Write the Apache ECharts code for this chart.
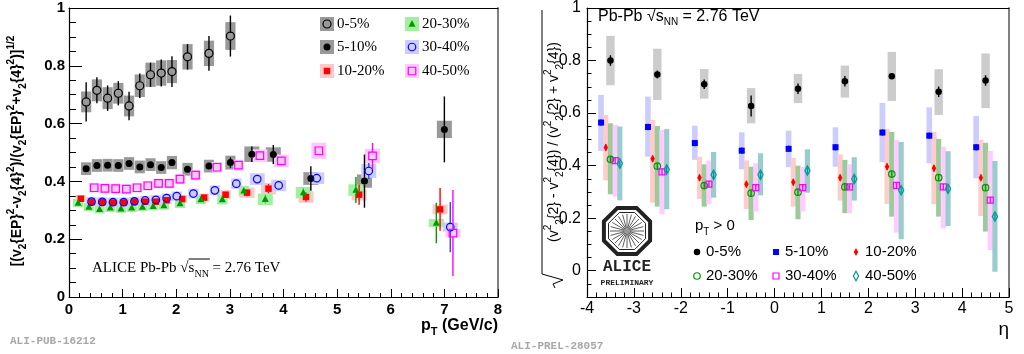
<!DOCTYPE html>
<html>
<head>
<meta charset="utf-8">
<script src="https://cdn.jsdelivr.net/npm/echarts@6/dist/echarts.min.js"></script>
<style>
html, body { margin: 0; padding: 0; background: #fff; }
#chart { width: 1024px; height: 354px; }
</style>
</head>
<body>
<div id="chart"></div>
<script>
// ---- left panel: ratio vs pT ----
const pt_0_5 = [0.32, 0.52, 0.72, 0.92, 1.12, 1.32, 1.52, 1.72, 1.92, 2.21, 2.61, 3.01]
const v_0_5 = [0.675, 0.715, 0.688, 0.705, 0.661, 0.731, 0.769, 0.775, 0.780, 0.831, 0.843, 0.903]
const stat_0_5 = [0.068, 0.045, 0.044, 0.042, 0.049, 0.042, 0.042, 0.047, 0.053, 0.044, 0.060, 0.071]
const sys_0_5 = [0.036, 0.038, 0.038, 0.036, 0.036, 0.039, 0.042, 0.044, 0.040, 0.044, 0.044, 0.048]

const pt_5_10 = [0.32, 0.52, 0.72, 0.92, 1.12, 1.32, 1.52, 1.72, 1.92, 2.21, 2.61, 3.01, 3.41, 3.81, 4.51, 5.51, 7.0]
const v_5_10 = [0.444, 0.455, 0.456, 0.455, 0.462, 0.450, 0.458, 0.448, 0.465, 0.442, 0.453, 0.465, 0.494, 0.493, 0.410, 0.401, 0.580]
const stat_5_10 = [0.008, 0.008, 0.008, 0.008, 0.008, 0.008, 0.008, 0.009, 0.010, 0.010, 0.012, 0.018, 0.027, 0.033, 0.042, 0.092, 0.114]
const sys_5_10 = [0.022, 0.022, 0.022, 0.022, 0.022, 0.022, 0.022, 0.022, 0.023, 0.022, 0.022, 0.024, 0.027, 0.025, 0.022, 0.023, 0.030]

const pt_10_20 = [0.22, 0.42, 0.62, 0.82, 1.02, 1.22, 1.42, 1.62, 1.82, 2.11, 2.52, 2.92, 3.32, 3.72, 4.42, 5.41, 6.92]
const v_10_20 = [0.340, 0.329, 0.328, 0.327, 0.327, 0.330, 0.330, 0.330, 0.335, 0.339, 0.344, 0.354, 0.361, 0.375, 0.346, 0.354, 0.303]
const stat_10_20 = [0.005, 0.004, 0.004, 0.004, 0.004, 0.004, 0.005, 0.005, 0.006, 0.006, 0.008, 0.010, 0.012, 0.016, 0.016, 0.035, 0.074]
const sys_10_20 = [0.013, 0.013, 0.013, 0.013, 0.013, 0.013, 0.013, 0.013, 0.013, 0.014, 0.014, 0.016, 0.018, 0.020, 0.020, 0.020, 0.017]

const pt_20_30 = [0.17, 0.37, 0.57, 0.77, 0.97, 1.17, 1.37, 1.57, 1.77, 2.07, 2.46, 2.86, 3.26, 3.66, 4.37, 5.35, 6.85]
const v_20_30 = [0.325, 0.311, 0.303, 0.308, 0.305, 0.308, 0.311, 0.314, 0.316, 0.323, 0.337, 0.337, 0.367, 0.338, 0.361, 0.370, 0.256]
const stat_20_30 = [0.005, 0.004, 0.004, 0.004, 0.004, 0.004, 0.005, 0.005, 0.006, 0.006, 0.008, 0.010, 0.012, 0.014, 0.014, 0.045, 0.070]
const sys_20_30 = [0.014, 0.014, 0.014, 0.014, 0.014, 0.014, 0.014, 0.014, 0.014, 0.015, 0.016, 0.017, 0.018, 0.020, 0.020, 0.020, 0.014]

const pt_30_40 = [0.42, 0.62, 0.82, 1.02, 1.22, 1.42, 1.62, 1.82, 2.01, 2.32, 2.72, 3.12, 3.51, 3.91, 4.62, 5.59, 7.11]
const v_30_40 = [0.330, 0.329, 0.328, 0.328, 0.331, 0.334, 0.336, 0.342, 0.349, 0.358, 0.369, 0.392, 0.408, 0.386, 0.411, 0.436, 0.242]
const stat_30_40 = [0.004, 0.004, 0.004, 0.004, 0.004, 0.005, 0.005, 0.005, 0.006, 0.007, 0.008, 0.009, 0.010, 0.010, 0.012, 0.028, 0.087]
const sys_30_40 = [0.016, 0.016, 0.016, 0.016, 0.016, 0.016, 0.016, 0.016, 0.016, 0.017, 0.017, 0.018, 0.020, 0.020, 0.020, 0.024, 0.016]

const pt_40_50 = [0.47, 0.67, 0.87, 1.07, 1.27, 1.47, 1.67, 1.87, 2.07, 2.36, 2.76, 3.16, 3.56, 3.96, 4.66, 5.66, 7.16]
const v_40_50 = [0.378, 0.376, 0.375, 0.373, 0.378, 0.385, 0.393, 0.393, 0.408, 0.422, 0.449, 0.456, 0.489, 0.471, 0.506, 0.488, 0.221]
const stat_40_50 = [0.004, 0.004, 0.004, 0.004, 0.005, 0.005, 0.005, 0.006, 0.006, 0.007, 0.008, 0.009, 0.010, 0.011, 0.012, 0.045, 0.149]
const sys_40_50 = [0.017, 0.017, 0.017, 0.017, 0.017, 0.017, 0.017, 0.017, 0.017, 0.018, 0.018, 0.019, 0.022, 0.022, 0.028, 0.025, 0.014]

const ptTicks = [0, 1, 2, 3, 4, 5, 6, 7, 8]

// ---- right panel: ratio vs eta ----
const etaBins = [-3.5, -2.5, -1.5, -0.5, 0.5, 1.5, 2.5, 3.5, 4.5]

const eta_v_0_5 = [0.800, 0.747, 0.710, 0.627, 0.693, 0.721, 0.740, 0.681, 0.724]
const eta_hi_0_5 = [0.894, 0.845, 0.768, 0.695, 0.749, 0.781, 0.833, 0.767, 0.827]
const eta_lo_0_5 = [0.706, 0.650, 0.655, 0.561, 0.638, 0.659, 0.646, 0.593, 0.619]
const eta_stat_0_5 = [0.020, 0.015, 0.018, 0.040, 0.020, 0.020, 0.010, 0.020, 0.020]

const eta_v_5_10 = [0.564, 0.547, 0.486, 0.457, 0.464, 0.470, 0.526, 0.514, 0.470]
const eta_hi_5_10 = [0.669, 0.663, 0.552, 0.527, 0.533, 0.546, 0.639, 0.622, 0.589]
const eta_lo_5_10 = [0.456, 0.434, 0.422, 0.386, 0.394, 0.396, 0.413, 0.409, 0.352]

const eta_v_10_20 = [0.469, 0.426, 0.354, 0.329, 0.337, 0.354, 0.396, 0.390, 0.354]
const eta_hi_10_20 = [0.593, 0.574, 0.434, 0.420, 0.429, 0.443, 0.540, 0.528, 0.498]
const eta_lo_10_20 = [0.344, 0.259, 0.273, 0.235, 0.244, 0.267, 0.254, 0.253, 0.208]

const eta_v_20_30 = [0.424, 0.398, 0.324, 0.295, 0.299, 0.319, 0.368, 0.354, 0.316]
const eta_hi_20_30 = [0.561, 0.551, 0.405, 0.396, 0.400, 0.422, 0.528, 0.502, 0.487]
const eta_lo_20_30 = [0.291, 0.244, 0.244, 0.193, 0.196, 0.219, 0.206, 0.206, 0.149]

const eta_v_30_40 = [0.419, 0.376, 0.330, 0.316, 0.316, 0.319, 0.325, 0.319, 0.269]
const eta_hi_30_40 = [0.555, 0.536, 0.419, 0.409, 0.395, 0.405, 0.497, 0.472, 0.456]
const eta_lo_30_40 = [0.282, 0.215, 0.253, 0.225, 0.225, 0.219, 0.145, 0.161, 0.079]

const eta_v_40_50 = [0.408, 0.385, 0.365, 0.365, 0.381, 0.349, 0.306, 0.312, 0.206]
const eta_hi_40_50 = [0.549, 0.539, 0.452, 0.447, 0.462, 0.432, 0.490, 0.455, 0.418]
const eta_lo_40_50 = [0.268, 0.234, 0.278, 0.287, 0.297, 0.267, 0.120, 0.170, -0.004]

const etaTicks = [-4, -3, -2, -1, 0, 1, 2, 3, 4, 5]
const ratioTicks = [0, 0.2, 0.4, 0.6, 0.8, 1]

const F = 'Liberation Sans, Arial, Helvetica, sans-serif'
const FS = 'Liberation Serif, Times New Roman, serif'
const FM = 'Liberation Mono, DejaVu Sans Mono, monospace'

function zip(...cols) {
  return cols[0].map((_, i) => cols.map(c => c[i]))
}

const measureCtx = document.createElement('canvas').getContext('2d')
function textWidth(font, text) {
  measureCtx.font = font
  return measureCtx.measureText(text).width
}

// marker drawing shared by series and legends
function marker(mk, x, y) {
  const r = mk.size / 2
  const st = mk.open
    ? { fill: 'rgba(0,0,0,0)', stroke: mk.color, lineWidth: 1.2 }
    : { fill: mk.color }
  if (mk.shape === 'circle') return { type: 'circle', shape: { cx: x, cy: y, r: r }, style: st }
  if (mk.shape === 'square') return { type: 'rect', shape: { x: x - r, y: y - r, width: 2 * r, height: 2 * r }, style: st }
  if (mk.shape === 'triangle') return { type: 'polygon', shape: { points: [[x, y - r * 1.15], [x + r, y + r * 0.75], [x - r, y + r * 0.75]] }, style: st }
  return { type: 'polygon', shape: { points: [[x, y - r * 1.35], [x + r * 0.75, y], [x, y + r * 1.35], [x - r * 0.75, y]] }, style: st }
}

const leftSets = [
  { name: '0-5%', d: zip(pt_0_5, v_0_5, stat_0_5, sys_0_5), box: '#999999', mk: { shape: 'circle', open: true, color: '#000', size: 8 }, bar: '#000' },
  { name: '5-10%', d: zip(pt_5_10, v_5_10, stat_5_10, sys_5_10), box: '#999999', mk: { shape: 'circle', open: false, color: '#000', size: 7 }, bar: '#000' },
  { name: '10-20%', d: zip(pt_10_20, v_10_20, stat_10_20, sys_10_20), box: '#ffc8c8', mk: { shape: 'square', open: false, color: '#ff0000', size: 6.5 }, bar: '#ff0000' },
  { name: '20-30%', d: zip(pt_20_30, v_20_30, stat_20_30, sys_20_30), box: '#a0f0a0', mk: { shape: 'triangle', open: false, color: '#009900', size: 7 }, bar: '#009900' },
  { name: '30-40%', d: zip(pt_30_40, v_30_40, stat_30_40, sys_30_40), box: '#ccccff', mk: { shape: 'circle', open: true, color: '#0000ff', size: 7.5 }, bar: '#4040ff' },
  { name: '40-50%', d: zip(pt_40_50, v_40_50, stat_40_50, sys_40_50), box: '#ffc8ff', mk: { shape: 'square', open: true, color: '#ff00ff', size: 7.5 }, bar: '#ff00ff' }
]

const rightSets = [
  { name: '0-5%', off: 0, v: eta_v_0_5, hi: eta_hi_0_5, lo: eta_lo_0_5, stat: eta_stat_0_5, box: '#cccccc', hw: 0.09, mk: { shape: 'circle', open: false, color: '#000', size: 6.5 } },
  { name: '5-10%', off: -0.2, v: eta_v_5_10, hi: eta_hi_5_10, lo: eta_lo_5_10, box: '#ccccff', hw: 0.06, mk: { shape: 'square', open: false, color: '#0000ff', size: 6 } },
  { name: '10-20%', off: -0.1, v: eta_v_10_20, hi: eta_hi_10_20, lo: eta_lo_10_20, box: '#ffcccc', hw: 0.055, mk: { shape: 'diamond', open: false, color: '#ff0000', size: 6 } },
  { name: '20-30%', off: 0, v: eta_v_20_30, hi: eta_hi_20_30, lo: eta_lo_20_30, box: '#99cc99', hw: 0.055, mk: { shape: 'circle', open: true, color: '#009900', size: 6.5 } },
  { name: '30-40%', off: 0.1, v: eta_v_30_40, hi: eta_hi_30_40, lo: eta_lo_30_40, box: '#ffccff', hw: 0.055, mk: { shape: 'square', open: true, color: '#ff00ff', size: 6 } },
  { name: '40-50%', off: 0.2, v: eta_v_40_50, hi: eta_hi_40_50, lo: eta_lo_40_50, box: '#99cccc', hw: 0.055, mk: { shape: 'diamond', open: true, color: '#009999', size: 7 } }
]

const series = []

// left: systematic boxes first, then stat bars + markers
leftSets.forEach(s => {
  series.push({
    type: 'custom', coordinateSystem: 'cartesian2d', xAxisIndex: 0, yAxisIndex: 0, z: 1, silent: true,
    data: s.d,
    renderItem: (params, api) => {
      const x = api.value(0), y = api.value(1), sy = api.value(3)
      const hw = x < 3.3 ? 0.095 : 0.14
      const p1 = api.coord([x - hw, y + sy])
      const p2 = api.coord([x + hw, y - sy])
      return { type: 'rect', shape: { x: p1[0], y: p1[1], width: p2[0] - p1[0], height: p2[1] - p1[1] }, style: { fill: s.box } }
    }
  })
})
leftSets.forEach(s => {
  series.push({
    type: 'custom', coordinateSystem: 'cartesian2d', xAxisIndex: 0, yAxisIndex: 0, z: 2, silent: true,
    data: s.d,
    renderItem: (params, api) => {
      const x = api.value(0), y = api.value(1), e = api.value(2)
      const c = api.coord([x, y]), t = api.coord([x, y + e]), b = api.coord([x, y - e])
      const r = s.mk.size / 2
      const kids = []
      if (c[1] - t[1] > r) kids.push({ type: 'line', shape: { x1: c[0], y1: t[1], x2: c[0], y2: c[1] - r }, style: { stroke: s.bar, lineWidth: 1.4 } })
      if (b[1] - c[1] > r) kids.push({ type: 'line', shape: { x1: c[0], y1: c[1] + r, x2: c[0], y2: b[1] }, style: { stroke: s.bar, lineWidth: 1.4 } })
      kids.push(marker(s.mk, c[0], c[1]))
      return { type: 'group', children: kids }
    }
  })
})

// right: boxes then markers
rightSets.forEach(s => {
  series.push({
    type: 'custom', coordinateSystem: 'cartesian2d', xAxisIndex: 1, yAxisIndex: 2, z: 1, silent: true,
    data: zip(etaBins, s.hi, s.lo),
    renderItem: (params, api) => {
      const x = api.value(0) + s.off
      const p1 = api.coord([x - s.hw, api.value(1)])
      const p2 = api.coord([x + s.hw, api.value(2)])
      return { type: 'rect', shape: { x: p1[0], y: p1[1], width: p2[0] - p1[0], height: p2[1] - p1[1] }, style: { fill: s.box } }
    }
  })
})
rightSets.forEach(s => {
  const st = s.stat || s.v.map(() => 0.012)
  series.push({
    type: 'custom', coordinateSystem: 'cartesian2d', xAxisIndex: 1, yAxisIndex: 2, z: 2, silent: true,
    data: zip(etaBins, s.v, st),
    renderItem: (params, api) => {
      const x = api.value(0) + s.off, y = api.value(1), e = api.value(2)
      const c = api.coord([x, y]), t = api.coord([x, y + e]), b = api.coord([x, y - e])
      return {
        type: 'group', children: [
          { type: 'line', shape: { x1: c[0], y1: t[1], x2: c[0], y2: b[1] }, style: { stroke: s.mk.color, lineWidth: 1.4 } },
          marker(s.mk, c[0], c[1])
        ]
      }
    }
  })
})

// ---- legends and text (graphic) ----
const graphic = []

const leftLegendPos = [[327, 24], [327, 47], [327, 71], [412, 24], [412, 47], [412, 71]]
leftSets.forEach((s, i) => {
  const [x, y] = leftLegendPos[i]
  graphic.push({ type: 'rect', shape: { x: x - 7, y: y - 7, width: 14, height: 14 }, style: { fill: s.box } })
  graphic.push(marker(s.mk, x, y))
  graphic.push({ type: 'text', x: x + 10, y: y, style: { text: s.name, font: '15px ' + FS, fill: '#000', verticalAlign: 'middle' } })
})

const rightLegendPos = [[697, 252], [776, 252], [856, 252], [697, 276], [776, 276], [856, 276]]
rightSets.forEach((s, i) => {
  const [x, y] = rightLegendPos[i]
  graphic.push(marker(s.mk, x, y))
  graphic.push({ type: 'text', x: x + 9, y: y, style: { text: s.name, font: '15px ' + F, fill: '#000', verticalAlign: 'middle' } })
})

const richSans = (size, weight) => ({
  sub: { fontFamily: F, fontWeight: weight, fontSize: Math.round(size * 0.68), lineHeight: 13, verticalAlign: 'bottom' },
  sup: { fontFamily: F, fontWeight: weight, fontSize: Math.round(size * 0.68), lineHeight: 10, verticalAlign: 'top' }
})

// overline positions for the sqrt(s_NN) pieces
const annL = { x: 92, y: 268, font: '15px ' + FS, subFont: '10px ' + FS }
const olL0 = annL.x + textWidth(annL.font, 'ALICE Pb-Pb √')
const olL1 = olL0 + textWidth(annL.font, 's') + textWidth(annL.subFont, 'NN') + 1
const annR = { x: 598, y: 17, font: '16px ' + F, subFont: '10px ' + F }
const olR0 = annR.x + textWidth(annR.font, 'Pb-Pb √')
const olR1 = olR0 + textWidth(annR.font, 's') + textWidth(annR.subFont, 'NN') + 1

graphic.push(
  // left y title
  {
    type: 'text', x: 17, y: 151, rotation: Math.PI / 2,
    style: {
      text: '[(v{sub|2}{EP}{sup|2}-v{sub|2}{4}{sup|2})/(v{sub|2}{EP}{sup|2}+v{sub|2}{4}{sup|2})]{sup|1/2}',
      font: 'bold 14px ' + F, lineHeight: 22, fill: '#000', align: 'center', verticalAlign: 'middle',
      rich: richSans(14, 'bold')
    }
  },
  // y-axis zero of the left panel (the axis drops it next to the x-axis zero)
  { type: 'text', x: 65, y: 297, style: { text: '0', font: 'bold 15px ' + F, fill: '#000', align: 'right', verticalAlign: 'middle' } },
  // left x title
  {
    type: 'text', x: 498, y: 326,
    style: {
      text: 'p{sub|T} (GeV/c)', font: 'bold 16px ' + F, lineHeight: 22, fill: '#000', align: 'right', verticalAlign: 'middle',
      rich: richSans(16, 'bold')
    }
  },
  // right x title
  { type: 'text', x: 1009, y: 330, style: { text: 'η', font: '19px ' + F, fill: '#000', align: 'right', verticalAlign: 'middle' } },
  // right y title with radical
  {
    type: 'group', x: 554, y: 150, rotation: Math.PI / 2,
    children: [
      {
        type: 'text', x: 8, y: 0,
        style: {
          text: '(v{sup|2}{sub|2}{2} - v{sup|2}{sub|2}{4}) / (v{sup|2}{sub|2}{2} + v{sup|2}{sub|2}{4})',
          font: '14px ' + F, lineHeight: 22, fill: '#000', align: 'center', verticalAlign: 'middle',
          rich: richSans(14, 'normal')
        }
      },
      { type: 'polyline', shape: { points: [[-138, 1], [-134, -1], [-130, 9], [-124, -12], [140, -12]] }, style: { stroke: '#000', lineWidth: 1, fill: null } }
    ]
  },
  // left annotation
  {
    type: 'text', x: annL.x, y: annL.y,
    style: {
      text: 'ALICE Pb-Pb √s{sub|NN} = 2.76 TeV', font: annL.font, lineHeight: 22, fill: '#000', verticalAlign: 'middle',
      rich: { sub: { fontFamily: FS, fontSize: 10, lineHeight: 14, verticalAlign: 'bottom' } }
    }
  },
  { type: 'line', shape: { x1: olL0, y1: 259, x2: olL1, y2: 259 }, style: { stroke: '#000', lineWidth: 1 } },
  // right annotation
  {
    type: 'text', x: annR.x, y: annR.y,
    style: {
      text: 'Pb-Pb √s{sub|NN} = 2.76 TeV', font: annR.font, lineHeight: 20, fill: '#000', verticalAlign: 'middle',
      rich: { sub: { fontFamily: F, fontSize: 10, lineHeight: 12, verticalAlign: 'bottom' } }
    }
  },
  { type: 'line', shape: { x1: olR0, y1: 8.5, x2: olR1, y2: 8.5 }, style: { stroke: '#000', lineWidth: 1 } },
  // pT > 0
  {
    type: 'text', x: 695, y: 226,
    style: {
      text: 'p{sub|T} > 0', font: '15px ' + F, lineHeight: 22, fill: '#000', verticalAlign: 'middle',
      rich: { sub: { fontFamily: F, fontSize: 10, lineHeight: 13, verticalAlign: 'bottom' } }
    }
  },
  // watermarks
  { type: 'text', x: 10, y: 341, style: { text: 'ALI-PUB-16212', font: 'bold 11px ' + FM, fill: '#a8a8a8', verticalAlign: 'middle' } },
  { type: 'text', x: 511, y: 346, style: { text: 'ALI-PREL-28057', font: 'bold 11px ' + FM, fill: '#a8a8a8', verticalAlign: 'middle' } }
)

// ALICE logo
;(function () {
  const cx = 627, cy = 231
  const oct = (R) => Array.from({ length: 8 }, (_, k) => {
    const a = Math.PI / 8 + k * Math.PI / 4
    return [cx + R * Math.cos(a), cy + R * Math.sin(a)]
  })
  graphic.push({ type: 'polygon', shape: { points: oct(25) }, style: { fill: '#fff', stroke: '#222', lineWidth: 4 } })
  graphic.push({ type: 'polygon', shape: { points: oct(20) }, style: { fill: null, stroke: '#222', lineWidth: 1 } })
  for (let k = 0; k < 12; k++) {
    const a = k * Math.PI / 12
    const rx = 17 * Math.cos(a), ry = 17 * Math.sin(a)
    graphic.push({ type: 'line', shape: { x1: cx - rx, y1: cy - ry, x2: cx + rx, y2: cy + ry }, style: { stroke: '#333', lineWidth: 0.8 } })
  }
  graphic.push({ type: 'circle', shape: { cx: cx, cy: cy, r: 3 }, style: { fill: '#999' } })
  graphic.push({ type: 'text', x: cx, y: 267, style: { text: 'ALICE', font: 'bold 16px ' + FM, fill: '#222', align: 'center', verticalAlign: 'middle' } })
  graphic.push({ type: 'text', x: cx, y: 283, style: { text: 'PRELIMINARY', font: 'bold 8px ' + FM, fill: '#222', align: 'center', verticalAlign: 'middle' } })
})()

const chart = echarts.init(document.getElementById('chart'))

const labelFmt = v => (v === 0 || v === 1) ? String(v) : v.toFixed(1)

chart.setOption({
  animation: false,
  backgroundColor: '#fff',
  grid: [
    { left: 69, top: 8, width: 429, height: 289 },
    { left: 587, top: 8, width: 422, height: 289 },
    { left: 587, top: 8, width: 422, height: 289 }
  ],
  xAxis: [
    {
      gridIndex: 0, type: 'value', min: ptTicks[0], max: ptTicks[ptTicks.length - 1], interval: 1, position: 'bottom',
      axisLine: { onZero: false, lineStyle: { color: '#000', width: 1.2 } },
      axisTick: { inside: true, length: 8, lineStyle: { color: '#000' } },
      minorTick: { show: true, splitNumber: 5, length: 4, lineStyle: { color: '#000' } },
      axisLabel: { color: '#000', fontFamily: F, fontWeight: 'bold', fontSize: 15, margin: 5, showMinLabel: true },
      splitLine: { show: false }
    },
    {
      gridIndex: 1, type: 'value', min: etaTicks[0], max: etaTicks[etaTicks.length - 1], interval: 1, position: 'bottom',
      axisLine: { onZero: false, lineStyle: { color: '#000', width: 1.2 } },
      axisTick: { inside: true, length: 9, lineStyle: { color: '#000' } },
      minorTick: { show: true, splitNumber: 5, length: 4.5, lineStyle: { color: '#000' } },
      axisLabel: { color: '#000', fontFamily: F, fontSize: 16, margin: 4 },
      splitLine: { show: false }
    },
    {
      gridIndex: 0, type: 'value', min: 0, max: 8, position: 'top',
      axisLine: { onZero: false, lineStyle: { color: '#000', width: 1 } }, axisTick: { show: false }, axisLabel: { show: false }, splitLine: { show: false }
    },
    {
      gridIndex: 2, type: 'value', min: -4, max: 5, position: 'top',
      axisLine: { onZero: false, lineStyle: { color: '#000', width: 1 } }, axisTick: { show: false }, axisLabel: { show: false }, splitLine: { show: false }
    }
  ],
  yAxis: [
    {
      gridIndex: 0, type: 'value', min: 0, max: 1, interval: 0.2, position: 'left',
      axisLine: { onZero: false, lineStyle: { color: '#000', width: 1.2 } },
      axisTick: { inside: true, length: 13, lineStyle: { color: '#000' } },
      minorTick: { show: true, splitNumber: 4, length: 7, lineStyle: { color: '#000' } },
      axisLabel: { color: '#000', fontFamily: F, fontWeight: 'bold', fontSize: 15, margin: 4, showMinLabel: false, formatter: labelFmt },
      splitLine: { show: false }
    },
    {
      gridIndex: 0, type: 'value', min: 0, max: 1, position: 'right',
      axisLine: { onZero: false, lineStyle: { color: '#808080', width: 2 } }, axisTick: { show: false }, axisLabel: { show: false }, splitLine: { show: false }
    },
    {
      gridIndex: 1, type: 'value', min: -0.1, max: 1, position: 'left',
      axisLine: { onZero: false, lineStyle: { color: '#000', width: 1.2 } },
      axisTick: { inside: true, length: 9, customValues: ratioTicks, lineStyle: { color: '#000' } },
      axisLabel: { color: '#000', fontFamily: F, fontSize: 16, margin: 6, customValues: ratioTicks, formatter: labelFmt },
      splitLine: { show: false }
    },
    {
      gridIndex: 2, type: 'value', min: -0.1, max: 1, interval: 0.05, position: 'left',
      axisLine: { show: false, onZero: false },
      axisTick: { inside: true, length: 4.5, lineStyle: { color: '#000' } },
      axisLabel: { show: false }, splitLine: { show: false }
    },
    {
      gridIndex: 2, type: 'value', min: -0.1, max: 1, position: 'right',
      axisLine: { onZero: false, lineStyle: { color: '#808080', width: 2 } }, axisTick: { show: false }, axisLabel: { show: false }, splitLine: { show: false }
    }
  ],
  graphic: graphic,
  series: series
})
</script>
</body>
</html>
